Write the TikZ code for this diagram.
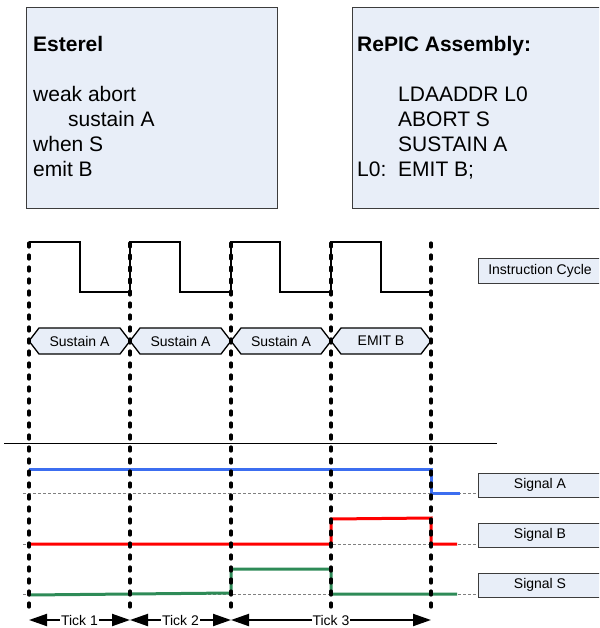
\documentclass[tikz,border=0pt]{standalone}
\usepackage{fontspec}
\setmainfont{Liberation Sans}
\usetikzlibrary{arrows.meta}
\definecolor{boxfill}{RGB}{232,238,248}
\definecolor{boxline}{RGB}{60,60,60}
\definecolor{sigA}{RGB}{60,110,240}
\definecolor{sigB}{RGB}{255,0,0}
\definecolor{sigS}{RGB}{46,139,87}
\begin{document}
\begin{tikzpicture}[x=1pt,y=-1pt,
  codebox/.style={draw=boxline,line width=1pt,fill=boxfill,inner sep=0pt,anchor=north west},
  codetext/.style={anchor=base west,inner sep=0pt,font=\fontsize{21}{25}\selectfont},
  clockline/.style={line width=1.5pt,black,line join=miter},
  bus/.style={draw=black,line width=1.3pt,fill=boxfill,line join=miter},
  lbl/.style={inner sep=0pt,font=\fontsize{14}{16}\selectfont},
  sigbox/.style={draw=boxline,line width=1pt,fill=boxfill,inner sep=0pt,minimum width=124pt,minimum height=24pt,font=\fontsize{14}{16}\selectfont},
  vdashline/.style={draw=black,line width=3.2pt,dash pattern=on 4pt off 8pt,line cap=round},
  sigbase/.style={draw=gray,line width=0.8pt,dash pattern=on 3pt off 2pt},
  sig/.style={line width=3pt,line join=miter},
  tickarrow/.style={draw=black,line width=2pt,{Triangle[length=18pt,width=12pt]}-{Triangle[length=18pt,width=12pt]}},
  ticklbl/.style={fill=white,inner sep=1pt,font=\fontsize{14}{16}\selectfont}]
\useasboundingbox (0,0) rectangle (599,628);
\clip (0,0) rectangle (599,628);

% code boxes
\node[codebox,minimum width=251pt,minimum height=201pt] (esterel) at (26,7) {};
\node[codebox,minimum width=262pt,minimum height=201pt] (repic) at (352,7) {};
\node[codetext] (e0) at (33,52) {\bfseries Esterel};
\node[codetext] (e1) at (33,102) {weak abort};
\node[codetext] (e2) at (68,127) {sustain A};
\node[codetext] (e3) at (33,152) {when S};
\node[codetext] (e4) at (33,177) {emit B};
\node[codetext] (r0) at (357,52) {\bfseries RePIC Assembly:};
\node[codetext] (r1) at (398,102) {LDAADDR L0};
\node[codetext] (r2) at (398,127) {ABORT S};
\node[codetext] (r3) at (398,152) {SUSTAIN A};
\node[codetext] (r4l) at (357,177) {L0:};
\node[codetext] (r4) at (398,177) {EMIT B;};

% clock
\draw[clockline] (29,242) -- (80,242) -- (80,292) -- (130,292) -- (130,242) -- (180,242) -- (180,292) -- (231,292) -- (231,242) -- (280,242) -- (280,292) -- (331,292) -- (331,242) -- (381,242) -- (381,292) -- (431,292);

% bus segments
\foreach \a/\b/\t/\n in {29/130/Sustain A/h1,130/231/Sustain A/h2,231/331/Sustain A/h3,331/431/EMIT B/h4}{
  \draw[bus] (\a,341) -- (\a+10,328) -- (\b-10,328) -- (\b,341) -- (\b-10,354) -- (\a+10,354) -- cycle;
  \node[lbl] (\n) at ({(\a+\b)/2},341) {\t};
}

% separator
\draw[line width=1pt] (4,443) -- (497,443);

% baselines
\draw[sigbase] (23,493) -- (478,493);
\draw[sigbase] (23,544) -- (478,544);
\draw[sigbase] (23,594) -- (478,594);

% signals
\draw[sig,sigA] (29,469) -- (431,469) -- (431,493) -- (460,493);
\draw[sig,sigB] (29,544) -- (331,544) -- (331,519) -- (431,518) -- (431,544) -- (457,544);
\draw[sig,sigS] (29,595) -- (231,593) -- (231,569) -- (331,569) -- (331,594) -- (457,594);

% labels on the right
\node[sigbox,minimum height=25pt] (ic) at (540,270.5) {Instruction Cycle};
\node[sigbox] (la) at (540,485) {Signal A};
\node[sigbox] (lb) at (540,535) {Signal B};
\node[sigbox] (ls) at (540,585) {Signal S};

% vertical dashed lines
\foreach \x/\n in {29/v1,130/v2,231/v3,331/v4,431/v5}{
  \coordinate (\n-top) at (\x,243);
  \coordinate (\n-bot) at (\x,613);
  \coordinate (\n-t) at (\x,620);
  \path[vdashline] (\n-top) -- (\n-bot);
}

% ticks
\draw[tickarrow] (v1-t) -- node[ticklbl] (tk1) {Tick 1} (v2-t);
\draw[tickarrow] (v2-t) -- node[ticklbl] (tk2) {Tick 2} (v3-t);
\draw[tickarrow] (v3-t) -- node[ticklbl] (tk3) {Tick 3} (v5-t);
\end{tikzpicture}
\end{document}
